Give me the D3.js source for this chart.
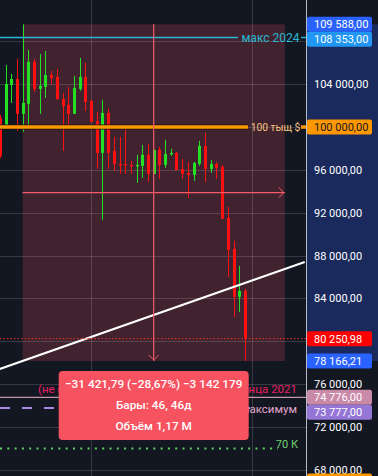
<!DOCTYPE html>
<html><head><meta charset="utf-8">
<script src="https://cdn.jsdelivr.net/npm/d3@7"></script>
<style>html,body{margin:0;padding:0;background:#131722;overflow:hidden}svg{display:block}</style>
</head><body>
<script>
// ---- data ----
const opens  = [100850, 99920,103930,104490,101230,102160,106080,103560,103740,104860,104680,102620,102070,101230,103560,104680,102440,100570, 97590,101320, 97770, 96560, 96560, 96470, 96370, 96370, 97400, 95630, 97870, 96470, 97560, 97590, 96090, 95720, 95530, 96560, 98240, 96090, 96560, 96280, 91520, 88630, 84150, 84710];
const highs  = [101130,105800,104960,106360,109588,107200,106360,106820,107100,105240,105420,103180,103740,104770,106450,105980,102530,101410,102530,101690, 99080, 99080,100100, 96840, 97400, 98330, 98430, 97870, 98150, 98800, 97960, 97680, 97030, 96750, 96750, 98710, 99450, 96930, 96750, 96470, 92550, 89380, 87040, 84900];
const lows   = [ 97120, 99920,102250, 99640, 99550,100200,103280,101230,102720,104020,102530, 97770,100200,101230,103370,101500,100480, 96090, 91340, 96090, 95910, 95630, 95630, 95630, 94790, 95250, 94880, 95630, 95160, 96190, 97310, 96000, 95160, 93390, 94970, 96370, 94880, 95720, 95160, 91430, 86020, 82290, 82750, 78166.21];
const closes = [ 97310,104020,104490,101230,102250,106080,103560,103840,104860,104580,102620,101970,101230,103650,104680,102340,100480, 97590,101320, 97590, 96560, 96470, 96470, 96370, 96470, 97400, 95630, 97870, 96470, 97490, 97590, 96000, 95630, 95530, 96650, 98240, 96090, 96560, 96190, 91430, 88540, 84150, 84710, 80250.98];
const tickValues = [68000,72000,76000,80000,84000,88000,92000,96000,100000,104000,108000,112000];
const tickLabelMax = 108000;
const timeGridIdx = [16.05, 44.25];
const rangeStartIdx = 4, rangeEndIdx = 50;
const rangeHigh = 109588, rangeLow = 78166.21;
const volumeText = "Объём 1,17 M";
const max2024 = 108353, level100k = 100000, level2021 = 74776, levelMax = 73777, level70k = 70000, lastPrice = 80250.98;
const trendPts = [{i:0, p:77420},{i:53.5, p:87400}];
const bottomTag = 66960;

// ---- setup ----
const W = 378, H = 476, PR = 306;
const svg = d3.select("body").append("svg").attr("width", W).attr("height", H)
  .style("font-family","Roboto, 'Noto Sans', sans-serif");
const x = d3.scaleLinear().domain([0, 43]).range([-0.2, 244.9]);
const y = d3.scaleLinear().domain([rangeLow, rangeHigh]).range([361, 24.3]);
const loc = d3.formatLocale({decimal:",", thousands:" ", grouping:[3], currency:["",""], minus:"\u2212"});
const f2 = loc.format(",.2f"), f0 = loc.format(",.0f");

svg.append("rect").attr("width",W).attr("height",H).attr("fill","#131722");
// axis highlight
svg.append("rect").attr("x",PR).attr("y",y(rangeHigh)).attr("width",W-PR).attr("height",y(rangeLow)-y(rangeHigh)).attr("fill","#1a2a5c");
// range rect
svg.append("rect").attr("x",x(rangeStartIdx)).attr("y",y(rangeHigh))
  .attr("width",x(rangeEndIdx)-x(rangeStartIdx)).attr("height",y(rangeLow)-y(rangeHigh)).attr("fill","#40232f");

// grid
const grid = svg.append("g").attr("stroke","rgba(255,255,255,0.15)").attr("stroke-width",1);
tickValues.forEach(v=>grid.append("line").attr("x1",0).attr("x2",PR).attr("y1",Math.round(y(v))+0.5).attr("y2",Math.round(y(v))+0.5));
timeGridIdx.forEach(i=>grid.append("line").attr("x1",Math.round(x(i))+0.5).attr("x2",Math.round(x(i))+0.5).attr("y1",0).attr("y2",H));

// horizontal drawings
function hline(v, color, w, dash, x2){ svg.append("line").attr("x1",0).attr("x2",x2).attr("y1",y(v)).attr("y2",y(v))
  .attr("stroke",color).attr("stroke-width",w).attr("stroke-dasharray",dash||null); }
hline(level70k, "#5ed45e", 2, "2,5.3", 278);
hline(levelMax, "#a98ae6", 2, "10,12", 250);
hline(level2021, "#f2b3c8", 1, null, PR);

// candles
const data = opens.map((o,i)=>({i, o, h:highs[i], l:lows[i], c:closes[i]}));
const cg = svg.append("g");
data.forEach(d=>{
  const col = d.c >= d.o ? "#22e022" : "#ff1010";
  const cx = Math.round(x(d.i));
  cg.append("rect").attr("x",cx).attr("y",y(d.h)).attr("width",1).attr("height",Math.max(1,y(d.l)-y(d.h))).attr("fill",col);
  const top = y(Math.max(d.o,d.c)), bot = y(Math.min(d.o,d.c));
  cg.append("rect").attr("x",cx-1).attr("y",top).attr("width",3).attr("height",Math.max(1.5,bot-top)).attr("fill",col);
});

// orange 100k
svg.append("line").attr("x1",0).attr("x2",248).attr("y1",y(level100k)).attr("y2",y(level100k)).attr("stroke","#1a1010").attr("stroke-width",5);
svg.append("line").attr("x1",0).attr("x2",248).attr("y1",y(level100k)).attr("y2",y(level100k)).attr("stroke","#ff9800").attr("stroke-width",3.5);
svg.append("line").attr("x1",301).attr("x2",PR).attr("y1",y(level100k)).attr("y2",y(level100k)).attr("stroke","#ff9800").attr("stroke-width",3.5);
svg.append("text").attr("x",275.5).attr("y",y(level100k)+4).attr("text-anchor","middle").attr("font-size",10.3)
  .attr("fill","#f7c27e").text("100 тыщ $");
// cyan max 2024
svg.append("line").attr("x1",0).attr("x2",238).attr("y1",y(max2024)).attr("y2",y(max2024)).attr("stroke","#29b6d6").attr("stroke-width",1.5);
svg.append("line").attr("x1",301).attr("x2",PR).attr("y1",y(max2024)).attr("y2",y(max2024)).attr("stroke","#29b6d6").attr("stroke-width",1.5);
svg.append("text").attr("x",270.5).attr("y",y(max2024)+4).attr("text-anchor","middle").attr("font-size",12)
  .attr("fill","#2bb7cf").text("макс 2024");

// trend line
svg.append("line").attr("x1",x(trendPts[0].i)).attr("y1",y(trendPts[0].p)).attr("x2",x(trendPts[1].i)).attr("y2",y(trendPts[1].p))
  .attr("stroke","#ffffff").attr("stroke-width",2);

// last price dotted
hline(lastPrice, "#ff2a2a", 1, "1.5,2", PR);

// range arrows
const ac = "#f45b69";
const midX = x((rangeStartIdx+rangeEndIdx)/2), midY = y((rangeHigh+rangeLow)/2);
svg.append("line").attr("x1",midX).attr("x2",midX).attr("y1",y(rangeHigh)).attr("y2",y(rangeLow)).attr("stroke",ac).attr("stroke-width",1.2);
svg.append("path").attr("d",`M${midX-5},${y(rangeLow)-6}L${midX},${y(rangeLow)-1}L${midX+5},${y(rangeLow)-6}`).attr("fill","none").attr("stroke",ac).attr("stroke-width",1);
svg.append("line").attr("x1",x(rangeStartIdx)).attr("x2",x(rangeEndIdx)).attr("y1",midY).attr("y2",midY).attr("stroke",ac).attr("stroke-width",1.2);
svg.append("path").attr("d",`M${x(rangeEndIdx)-6},${midY-5}L${x(rangeEndIdx)-1},${midY}L${x(rangeEndIdx)-6},${midY+5}`).attr("fill","none").attr("stroke",ac).attr("stroke-width",1);

// level labels
svg.append("text").attr("x",38).attr("y",y(level2021)-4).attr("font-size",11.5).attr("fill","#e91e63").text("(не с");
svg.append("text").attr("x",297).attr("y",y(level2021)-4).attr("text-anchor","end").attr("font-size",11.5).attr("fill","#e91e63").text("конца 2021");
svg.append("text").attr("x",297).attr("y",y(levelMax)+5).attr("text-anchor","end").attr("font-size",11.5).attr("fill","#e3a6d0").text("максимум");
svg.append("text").attr("x",298).attr("y",y(level70k)-1).attr("text-anchor","end").attr("font-size",11).attr("fill","#72d072").text("70 К");

// tooltip
const diff = rangeLow - rangeHigh, pct = diff/rangeHigh*100;
const bx = midX-95;
svg.append("rect").attr("x",bx).attr("y",371).attr("width",190).attr("height",69).attr("rx",4).attr("fill","#f7525f");
const tt = svg.append("g").attr("fill","#ffffff").attr("font-size",11.8).attr("font-weight",500).attr("text-anchor","middle");
tt.append("text").attr("x",midX).attr("y",388).text(`${f2(diff)} (${loc.format(".2f")(pct)}%) ${f0(Math.round(diff*100))}`);
tt.append("text").attr("x",midX).attr("y",409).text(`Бары: ${rangeEndIdx-rangeStartIdx}, ${rangeEndIdx-rangeStartIdx}д`);
tt.append("text").attr("x",midX).attr("y",430).text(volumeText);

// axis
svg.append("line").attr("x1",PR+0.5).attr("x2",PR+0.5).attr("y1",0).attr("y2",H).attr("stroke","#b8bcc6").attr("stroke-width",1);
const tags = [
  {v:rangeHigh, fill:"#2962ff", tc:"#fff"},
  {v:max2024, fill:"#2196f3", tc:"#fff"},
  {v:level100k, fill:"#ff9800", tc:"#131722"},
  {v:lastPrice, fill:"#ff0000", tc:"#fff"},
  {v:rangeLow, fill:"#2962ff", tc:"#fff"},
  {v:level2021, fill:"#c98aa8", tc:"#fff"},
  {v:levelMax, fill:"#9575d6", tc:"#fff"}
];
// stack tags so they do not overlap
tags.forEach(t=>t.cy=y(t.v));
tags.sort((a,b)=>a.cy-b.cy);
for(let k=1;k<tags.length;k++){ if(tags[k].cy < tags[k-1].cy+15) tags[k].cy = tags[k-1].cy+15; }
const ax = svg.append("g").attr("font-size",11);
tickValues.filter(v=>v<=tickLabelMax && !tags.some(t=>Math.abs(t.cy-y(v))<9)).forEach(v=>
  ax.append("text").attr("x",314).attr("y",y(v)+4).attr("fill","#ffffff").text(f2(v)));
tags.forEach(t=>{
  ax.append("rect").attr("x",307).attr("y",t.cy-7.5).attr("width",65).attr("height",15).attr("rx",2).attr("fill",t.fill);
  ax.append("text").attr("x",314).attr("y",t.cy+4).attr("fill",t.tc).text(f2(t.v));
});
// partly visible tag at the bottom edge
ax.append("rect").attr("x",307).attr("y",y(bottomTag)-7.5).attr("width",65).attr("height",15).attr("rx",2).attr("fill","#ff9800");
</script>
</body></html>
